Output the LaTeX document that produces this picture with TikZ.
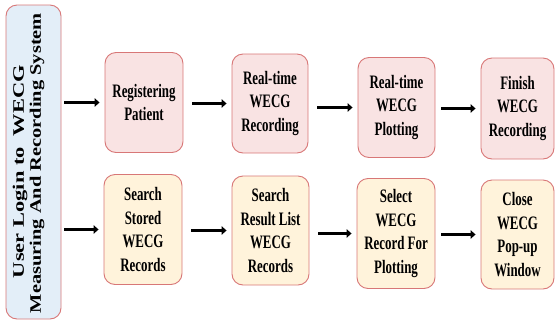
\documentclass[tikz,border=0pt]{standalone}
\usepackage{graphicx}
\usepackage{fontspec}
\setmainfont{Liberation Serif}
\newfontfamily\boxfont{Liberation Serif}[FakeStretch=0.68]
\usetikzlibrary{arrows.meta}
\definecolor{rimred}{HTML}{D87777}
\definecolor{pinkfill}{HTML}{F9E3E3}
\definecolor{creamfill}{HTML}{FFF3DB}
\definecolor{bluefill}{HTML}{E3EEF8}

\begin{document}
\begin{tikzpicture}[x=1pt, y=-1pt]
        \tikzstyle{stepbox} = [draw = rimred, line width = 0.9pt, rounded corners = 11pt, align = center, inner sep = 0pt, font = \boxfont\bfseries\fontsize{19}{23.5}\selectfont]
        \tikzstyle{flow} = [line width = 3pt, -{Triangle[length=5pt, width=8.5pt]}, shorten <= 9pt, shorten >= 5pt]
        \useasboundingbox (0, 0) rectangle (555, 322);
        % login column
        \node[stepbox, fill = bluefill, minimum width = 55pt, minimum height = 314pt] (login) at (33.5, 162) {};
        \node[rotate = 90, align = left, inner sep = 0pt, font = \bfseries\fontsize{16}{17}\selectfont] (logintext) at (28.5, 163) {\hspace*{35pt}\resizebox{213pt}{\height}{User Login to\ \ WECG}\\\resizebox{300pt}{\height}{Measuring And Recording System}};
        % recording row
        \node[stepbox, fill = pinkfill, minimum width = 78pt, minimum height = 100pt] (rec-1) at (144, 102.5) {Registering\\Patient};
        \node[stepbox, fill = pinkfill, minimum width = 76pt, minimum height = 99pt] (rec-2) at (270, 103.5) {Real-time\\WECG\\Recording};
        \node[stepbox, fill = pinkfill, minimum width = 77pt, minimum height = 100pt] (rec-3) at (396.5, 107.5) {Real-time\\WECG\\Plotting};
        \node[stepbox, fill = pinkfill, minimum width = 73pt, minimum height = 101pt] (rec-4) at (517.5, 108.5) {Finish\\WECG\\Recording};
        % search row
        \node[stepbox, fill = creamfill, minimum width = 78pt, minimum height = 110pt] (srch-1) at (143, 229.5) {Search\\Stored\\WECG\\Records};
        \node[stepbox, fill = creamfill, minimum width = 77pt, minimum height = 109pt] (srch-2) at (270.5, 230.5) {Search\\Result List\\WECG\\Records};
        \node[stepbox, fill = creamfill, minimum width = 78pt, minimum height = 110pt] (srch-3) at (396, 233.5) {Select\\WECG\\Record For\\Plotting};
        \node[stepbox, fill = creamfill, minimum width = 73pt, minimum height = 109pt] (srch-4) at (517.5, 234.5) {Close\\WECG\\Pop-up\\Window};
        % arrows
        \draw[flow, shorten <= 3pt] (login.east |- rec-1) -- (rec-1);
        \draw[flow] (rec-1.east |- rec-2) -- (rec-2);
        \draw[flow] (rec-2.east |- rec-3) -- (rec-3);
        \draw[flow, shorten <= 6pt] (rec-3.east |- rec-4) -- (rec-4);
        \draw[flow, shorten <= 3pt] (login.east |- srch-1) -- (srch-1);
        \draw[flow] (srch-1.east |- srch-2) -- (srch-2);
        \draw[flow] (srch-2.east |- srch-3) -- (srch-3);
        \draw[flow, shorten <= 6pt] (srch-3.east |- srch-4) -- (srch-4);
\end{tikzpicture}
\end{document}
